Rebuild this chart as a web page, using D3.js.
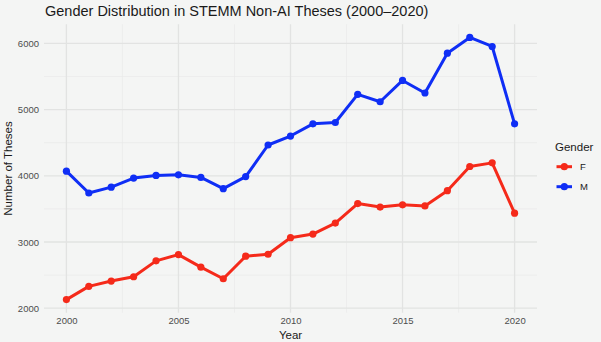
<!DOCTYPE html>
<html><head><meta charset="utf-8">
<script src="https://cdn.jsdelivr.net/npm/d3@7"></script>
<style>html,body{margin:0;padding:0;background:#f4f5f4;}svg{display:block;font-family:"Liberation Sans",Arial,sans-serif;}</style>
</head><body>
<svg id="c" width="601" height="342"></svg>
<script>
const years = [2000,2001,2002,2003,2004,2005,2006,2007,2008,2009,2010,2011,2012,2013,2014,2015,2016,2017,2018,2019,2020];
const femaleValues = [2130,2330,2410,2475,2715,2810,2620,2445,2785,2815,3065,3120,3285,3580,3528,3562,3545,3775,4140,4195,3435];
const maleValues = [4070,3740,3828,3965,4005,4015,3975,3805,3988,4465,4600,4785,4805,5230,5118,5440,5250,5852,6090,5953,4785];
const seriesNames = ["F","M"];
const seriesColors = ["#f52a1a","#0f2ef5"];
const xTicks = [2000,2005,2010,2015,2020];
const yTicks = [2000,3000,4000,5000,6000];
const xMinor = [2002.5,2007.5,2012.5,2017.5];
const yMinor = [2500,3500,4500,5500];

const svg = d3.select("#c");
const L = 44, R = 537, T = 24.3, B = 312.7;
const allV = femaleValues.concat(maleValues);
const vmin = d3.min(allV), vmax = d3.max(allV);
const ypad = (vmax - vmin) * 0.05;
const x = d3.scaleLinear().domain([1999, 2021]).range([L, R]);
const y = d3.scaleLinear().domain([vmin - ypad, vmax + ypad]).range([B, T]);

svg.append("rect").attr("width",601).attr("height",342).attr("fill","#f4f5f4");
const g = svg.append("g");
// minor grid
g.selectAll(".xm").data(xMinor).enter().append("line")
  .attr("x1",d=>x(d)).attr("x2",d=>x(d)).attr("y1",T).attr("y2",B)
  .attr("stroke","#e9eae9").attr("stroke-width",0.7);
g.selectAll(".ym").data(yMinor).enter().append("line")
  .attr("y1",d=>y(d)).attr("y2",d=>y(d)).attr("x1",L).attr("x2",R)
  .attr("stroke","#e9eae9").attr("stroke-width",0.7);
// major grid
g.selectAll(".xg").data(xTicks).enter().append("line")
  .attr("x1",d=>x(d)).attr("x2",d=>x(d)).attr("y1",T).attr("y2",B)
  .attr("stroke","#e2e3e2").attr("stroke-width",1.3);
g.selectAll(".yg").data(yTicks).enter().append("line")
  .attr("y1",d=>y(d)).attr("y2",d=>y(d)).attr("x1",L).attr("x2",R)
  .attr("stroke","#e2e3e2").attr("stroke-width",1.3);

// axes (text only)
const xAxis = d3.axisBottom(x).tickValues(xTicks).tickFormat(d3.format("d")).tickSize(0).tickPadding(5);
const xa = svg.append("g").attr("transform",`translate(0,${B})`).call(xAxis);
xa.select(".domain").remove();
xa.selectAll("text").attr("fill","#4d4d4d").style("font-size","9.5px").attr("font-family","Liberation Sans, Arial, sans-serif");
const yAxis = d3.axisLeft(y).tickValues(yTicks).tickFormat(d3.format("d")).tickSize(0).tickPadding(5);
const ya = svg.append("g").attr("transform",`translate(${L},0)`).call(yAxis);
ya.select(".domain").remove();
ya.selectAll("text").attr("fill","#4d4d4d").style("font-size","9.5px").attr("font-family","Liberation Sans, Arial, sans-serif");

// series
const series = [femaleValues, maleValues];
const line = d3.line().x((d,i)=>x(years[i])).y(d=>y(d));
series.forEach((vals, si) => {
  svg.append("path").datum(vals).attr("d",line).attr("fill","none")
    .attr("stroke",seriesColors[si]).attr("stroke-width",3).attr("stroke-linejoin","round");
  svg.selectAll(".p"+si).data(vals).enter().append("circle")
    .attr("cx",(d,i)=>x(years[i])).attr("cy",d=>y(d)).attr("r",3.6)
    .attr("fill",seriesColors[si]);
});

// titles
svg.append("text").attr("x",45).attr("y",16).text("Gender Distribution in STEMM Non-AI Theses (2000\u20132020)")
  .attr("fill","#1a1a1a").style("font-size","14.5px");
svg.append("text").attr("x",(L+R)/2).attr("y",339).attr("text-anchor","middle").text("Year")
  .attr("fill","#1a1a1a").style("font-size","11.5px");
svg.append("text").attr("transform",`translate(12,${(T+B)/2}) rotate(-90)`).attr("text-anchor","middle").text("Number of Theses")
  .attr("fill","#1a1a1a").style("font-size","11.5px");

// legend
svg.append("text").attr("x",555).attr("y",151).text("Gender").attr("fill","#1a1a1a").style("font-size","11.5px");
seriesNames.forEach((n, i) => {
  const yy = 166.7 + i*20;
  svg.append("line").attr("x1",556.5).attr("x2",572).attr("y1",yy).attr("y2",yy)
    .attr("stroke",seriesColors[i]).attr("stroke-width",3);
  svg.append("circle").attr("cx",564.3).attr("cy",yy).attr("r",3.6).attr("fill",seriesColors[i]);
  svg.append("text").attr("x",580).attr("y",yy+3.5).text(n).attr("fill","#1a1a1a").style("font-size","9.5px");
});
</script>
</body></html>
